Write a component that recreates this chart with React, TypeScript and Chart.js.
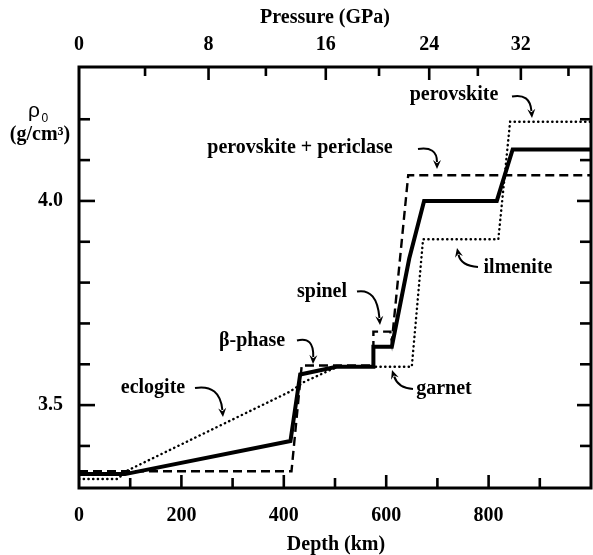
import React, { useEffect, useRef } from 'react';
import { Chart, registerables } from 'chart.js';

Chart.register(...registerables);

// ---- data ----
const depthMin = 0;
const depthMax = 1000;
const densityMin = 3.297;
const densityMax = 4.328;

// pyrolite (solid)
const solidDepth = [0, 90, 413, 432, 503, 575, 575, 611, 645, 674, 816, 847, 1000];
const solidDensity = [3.331, 3.331, 3.412, 3.575, 3.594, 3.594, 3.643, 3.643, 3.859, 4.0, 4.0, 4.126, 4.126];

// dashed
const dashedDepth = [0, 415, 435, 575, 575, 608, 611, 643, 1000];
const dashedDensity = [3.338, 3.338, 3.597, 3.597, 3.68, 3.68, 3.655, 4.063, 4.063];

// dotted
const dottedDepth = [0, 75, 95, 412, 440, 505, 650, 672, 819, 842, 1000];
const dottedDensity = [3.319, 3.319, 3.34, 3.533, 3.557, 3.594, 3.594, 3.906, 3.906, 4.194, 4.194];

const depthTicks = [0, 100, 200, 300, 400, 500, 600, 700, 800, 900];
const depthTickLabels = ['0', '', '200', '', '400', '', '600', '', '800', ''];
const pressureTickDepths = [0, 129, 253, 365, 482, 586, 684, 779, 863, 956];
const pressureTickLabels = ['0', '', '8', '', '16', '', '24', '', '32', ''];
const densityTicks = [3.4, 3.5, 3.6, 3.7, 3.8, 3.9, 4.0, 4.1, 4.2];
const densityTickLabels = ['', '3.5', '', '', '', '', '4.0', '', ''];

const labelTexts = ['perovskite', 'perovskite + periclase', 'ilmenite', 'spinel', 'β-phase', 'garnet', 'eclogite'];

// ---- layout (pixels) ----
const W = 593;
const H = 555;
const labelPos: [number, number][] = [
  [454, 100],
  [300, 153],
  [518, 272.5],
  [322, 297],
  [252, 346],
  [444, 394],
  [153, 393],
];
const arrows: [number, number][][] = [
  [[512, 96.5], [530, 93], [532, 118]],
  [[418, 149], [437, 146], [437, 169]],
  [[478, 267], [461, 266], [457, 248]],
  [[357, 291.5], [377, 288], [380, 325]],
  [[297, 340.5], [314, 336], [313, 364]],
  [[413, 389], [398, 388], [392, 370]],
  [[195, 388], [220, 384], [223, 417]],
];

const FONT = '"Liberation Serif", "Times New Roman", serif';

function drawArrow(ctx: CanvasRenderingContext2D, s: number[], c: number[], e: number[]) {
  const ang = Math.atan2(e[1] - c[1], e[0] - c[0]);
  const L = 9;
  const HW = 4;
  const bx = e[0] - L * Math.cos(ang);
  const by = e[1] - L * Math.sin(ang);
  ctx.beginPath();
  ctx.moveTo(s[0], s[1]);
  ctx.quadraticCurveTo(c[0], c[1], bx + 2 * Math.cos(ang), by + 2 * Math.sin(ang));
  ctx.stroke();
  ctx.beginPath();
  ctx.moveTo(e[0], e[1]);
  ctx.lineTo(bx + HW * Math.sin(ang), by - HW * Math.cos(ang));
  ctx.lineTo(bx + 0.35 * L * Math.cos(ang), by + 0.35 * L * Math.sin(ang));
  ctx.lineTo(bx - HW * Math.sin(ang), by + HW * Math.cos(ang));
  ctx.closePath();
  ctx.fill();
}

const framePlugin = {
  id: 'framePlugin',
  afterDraw(chart: any) {
    const ctx: CanvasRenderingContext2D = chart.ctx;
    const { left, right, top, bottom } = chart.chartArea;
    const sx = chart.scales.x;
    const sx2 = chart.scales.x2;
    const sy = chart.scales.y;
    ctx.save();
    ctx.strokeStyle = '#000';
    ctx.fillStyle = '#000';
    ctx.lineWidth = 3;
    ctx.lineCap = 'butt';
    ctx.strokeRect(left, top, right - left, bottom - top);

    ctx.lineWidth = 2.6;
    // bottom ticks
    depthTicks.forEach((d, i) => {
      if (d === depthMin) return;
      const x = sx.getPixelForValue(d);
      const len = depthTickLabels[i] !== '' || d % 200 === 0 ? 13 : 10;
      ctx.beginPath();
      ctx.moveTo(x, bottom);
      ctx.lineTo(x, bottom - len);
      ctx.stroke();
    });
    // top ticks
    pressureTickDepths.forEach((d, i) => {
      if (d === depthMin) return;
      const x = sx2.getPixelForValue(d);
      const len = pressureTickLabels[i] !== '' ? 13 : 9;
      ctx.beginPath();
      ctx.moveTo(x, top);
      ctx.lineTo(x, top + len);
      ctx.stroke();
    });
    // left & right ticks
    densityTicks.forEach((v, i) => {
      const y = sy.getPixelForValue(v);
      const major = densityTickLabels[i] !== '';
      ctx.beginPath();
      ctx.moveTo(left, y);
      ctx.lineTo(left + (major ? 16 : 11), y);
      ctx.stroke();
      ctx.beginPath();
      ctx.moveTo(right, y);
      ctx.lineTo(right - (major ? 14 : 11), y);
      ctx.stroke();
    });

    // titles
    ctx.textBaseline = 'alphabetic';
    ctx.textAlign = 'center';
    ctx.font = `bold 20px ${FONT}`;
    ctx.fillText('Pressure (GPa)', 325, 23);
    ctx.fillText('Depth (km)', 336, 550);
    ctx.fillText('(g/cm³)', 40, 140);
    ctx.font = `21px "Liberation Sans", Arial, sans-serif`;
    ctx.textAlign = 'left';
    ctx.fillText('ρ', 28, 117);
    ctx.font = `12px "Liberation Sans", Arial, sans-serif`;
    ctx.fillText('0', 41.5, 121.5);

    // annotations
    ctx.font = `bold 20px ${FONT}`;
    ctx.textAlign = 'center';
    labelTexts.forEach((t, i) => {
      ctx.fillText(t, labelPos[i][0], labelPos[i][1]);
    });
    ctx.lineWidth = 2;
    arrows.forEach((a) => drawArrow(ctx, a[0], a[1], a[2]));
    ctx.restore();
  },
};

const tickFont = { family: FONT, size: 20, weight: 'bold' as const };

export default function App() {
  const ref = useRef<HTMLCanvasElement>(null);
  useEffect(() => {
    if (!ref.current) return;
    const toPts = (xs: number[], ys: number[]) => xs.map((x, i) => ({ x, y: ys[i] }));
    const chart = new Chart(ref.current, {
      type: 'line',
      data: {
        datasets: [
          {
            label: 'solid',
            data: toPts(solidDepth, solidDensity),
            borderColor: '#000',
            borderWidth: 4,
            pointRadius: 0,
            tension: 0,
            fill: false,
            borderJoinStyle: 'miter',
            xAxisID: 'x',
            yAxisID: 'y',
          },
          {
            label: 'dashed',
            data: toPts(dashedDepth, dashedDensity),
            borderColor: '#000',
            borderWidth: 2.4,
            borderDash: [9, 5],
            pointRadius: 0,
            tension: 0,
            fill: false,
            xAxisID: 'x',
            yAxisID: 'y',
          },
          {
            label: 'dotted',
            data: toPts(dottedDepth, dottedDensity),
            borderColor: '#000',
            borderWidth: 2.4,
            borderDash: [0.3, 4.4],
            borderCapStyle: 'round',
            pointRadius: 0,
            tension: 0,
            fill: false,
            xAxisID: 'x',
            yAxisID: 'y',
          },
        ],
      },
      options: {
        responsive: false,
        animation: false,
        devicePixelRatio: 1,
        layout: { padding: { left: 0, right: 2, top: 0, bottom: 0 } },
        plugins: { legend: { display: false }, tooltip: { enabled: false } },
        scales: {
          x: {
            type: 'linear',
            position: 'bottom',
            min: depthMin,
            max: depthMax,
            grid: { display: false },
            border: { display: false },
            afterBuildTicks: (s: any) => {
              s.ticks = depthTicks.map((v) => ({ value: v }));
            },
            afterFit: (s: any) => {
              s.height = 67;
            },
            ticks: {
              autoSkip: false,
              maxRotation: 0,
              padding: 8,
              color: '#000',
              font: tickFont,
              callback: (_v: any, i: number) => depthTickLabels[i],
            },
          },
          x2: {
            type: 'linear',
            position: 'top',
            min: depthMin,
            max: depthMax,
            grid: { display: false },
            border: { display: false },
            afterBuildTicks: (s: any) => {
              s.ticks = pressureTickDepths.map((v) => ({ value: v }));
            },
            afterFit: (s: any) => {
              s.height = 67;
            },
            ticks: {
              autoSkip: false,
              maxRotation: 0,
              padding: 2,
              color: '#000',
              font: tickFont,
              callback: (_v: any, i: number) => pressureTickLabels[i],
            },
          },
          y: {
            type: 'linear',
            position: 'left',
            min: densityMin,
            max: densityMax,
            grid: { display: false },
            border: { display: false },
            afterBuildTicks: (s: any) => {
              s.ticks = densityTicks.map((v) => ({ value: v }));
            },
            afterFit: (s: any) => {
              s.width = 79;
            },
            ticks: {
              autoSkip: false,
              padding: 8,
              color: '#000',
              font: tickFont,
              callback: (_v: any, i: number) => densityTickLabels[i],
            },
          },
        },
      } as any,
      plugins: [framePlugin],
    });
    return () => chart.destroy();
  }, []);
  return (
    <div style={{ position: 'absolute', left: 0, top: 0, width: W, height: H, background: '#fff' }}>
      <canvas ref={ref} width={W} height={H} style={{ display: 'block', width: W, height: H }} />
    </div>
  );
}
